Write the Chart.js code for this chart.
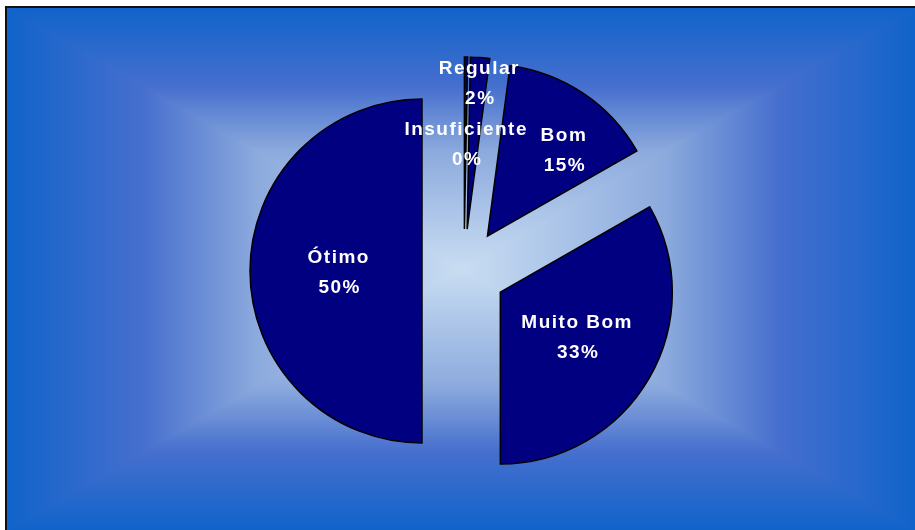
<!DOCTYPE html>
<html>
<head>
<meta charset="utf-8">
<title>Avaliação</title>
<script src="https://cdn.jsdelivr.net/npm/chart.js@4.4.1/dist/chart.umd.min.js"></script>
<style>
    html, body { margin: 0; padding: 0; background: #fff; }
    #wrap { width: 915px; height: 530px; position: relative; }
</style>
</head>
<body>
<div id="wrap"><canvas id="pieChart"></canvas></div>
<script>
// Dados (percentagens)
const categories = ['Insuficiente', 'Regular', 'Bom', 'Muito Bom', 'Ótimo'];
const values = [0.3, 1.8, 14.65, 33.25, 50];

// Estilo
const sliceColor = '#000080';
const explodeDist = 42;               // afastamento de cada fatia em relação ao centro (px)
const labelRadius = [0.5, 0.86, 0.67, 0.51, 0.49]; // posição do rótulo ao longo do raio
const labelShift = [0, 0, 7, 0, 0];   // ajuste angular dos rótulos (graus)

// 1. Fundo com gradiente retangular (do centro para as bordas)
const backgroundPlugin = {
    id: 'rectGradient',
    beforeDraw(chart) {
        const ctx = chart.ctx;
        const w = chart.width, h = chart.height;
        const x0 = 7, y0 = 8, x1 = w, y1 = h;
        const cx = (x0 + x1) / 2, cy = (y0 + y1) / 2;
        ctx.save();
        ctx.fillStyle = '#ffffff';
        ctx.fillRect(0, 0, w, h);

        const sides = [
            [[x0, y0], [x1, y0], [cx, y0], [cx, cy]],
            [[x1, y0], [x1, y1], [x1, cy], [cx, cy]],
            [[x1, y1], [x0, y1], [cx, y1], [cx, cy]],
            [[x0, y1], [x0, y0], [x0, cy], [cx, cy]]
        ];
        sides.forEach(s => {
            const g = ctx.createLinearGradient(s[2][0], s[2][1], s[3][0], s[3][1]);
            g.addColorStop(0, '#1063ca');
            g.addColorStop(0.3, '#466fce');
            g.addColorStop(0.55, '#8caadd');
            g.addColorStop(1, '#c9ddf2');
            ctx.beginPath();
            ctx.moveTo(s[0][0], s[0][1]);
            ctx.lineTo(s[1][0], s[1][1]);
            ctx.lineTo(cx, cy);
            ctx.closePath();
            ctx.fillStyle = g;
            ctx.strokeStyle = g;
            ctx.lineWidth = 1.5;
            ctx.fill();
            ctx.stroke();
        });

        // moldura preta (superior e esquerda)
        ctx.fillStyle = '#111';
        ctx.fillRect(5, 6, w - 5, 2);
        ctx.fillRect(5, 6, 2, h - 6);
        ctx.restore();
    }
};

function sliceShift(arc) {
    const half = (arc.startAngle + arc.endAngle) / 2;
    return { dx: Math.cos(half) * explodeDist, dy: Math.sin(half) * explodeDist, half: half };
}

// 2. Fatias destacadas: cada arco é desenhado deslocado ao longo da sua bissetriz
const explodePlugin = {
    id: 'explode',
    beforeDatasetDraw(chart, args) {
        const ctx = chart.ctx;
        args.meta.data.forEach(arc => {
            const s = sliceShift(arc);
            ctx.save();
            ctx.translate(s.dx, s.dy);
            arc.draw(ctx);
            ctx.restore();
        });
        return false;
    }
};

// 3. Rótulos (nome + percentagem) dentro das fatias
const labelPlugin = {
    id: 'sliceLabels',
    afterDatasetsDraw(chart) {
        const ctx = chart.ctx;
        const meta = chart.getDatasetMeta(0);
        ctx.save();
        ctx.fillStyle = '#ffffff';
        ctx.font = 'bold 19px "Liberation Sans", Arial, sans-serif';
        ctx.letterSpacing = '1.5px';
        ctx.textAlign = 'center';
        ctx.textBaseline = 'middle';
        meta.data.forEach((arc, i) => {
            const s = sliceShift(arc);
            const vx = arc.x + s.dx;
            const vy = arc.y + s.dy;
            const a = s.half + labelShift[i] * Math.PI / 180;
            const r = arc.outerRadius * labelRadius[i];
            const lx = vx + Math.cos(a) * r;
            const ly = vy + Math.sin(a) * r;
            ctx.fillText(categories[i], lx + 1, ly - 13);
            ctx.fillText(Math.round(values[i]) + '%', lx + 2, ly + 17);
        });
        ctx.restore();
    }
};

new Chart(document.getElementById('pieChart'), {
    type: 'pie',
    data: {
        labels: categories,
        datasets: [{
            data: values,
            backgroundColor: sliceColor,
            borderColor: '#000000',
            borderWidth: 1.5,
            borderJoinStyle: 'miter',
            hoverOffset: 0
        }]
    },
    options: {
        responsive: true,
        maintainAspectRatio: false,
        animation: false,
        radius: 172,
        rotation: 0,
        layout: { padding: { left: 13, right: 0, top: 12, bottom: 0 } },
        plugins: {
            legend: { display: false },
            tooltip: { enabled: false }
        },
        events: []
    },
    plugins: [backgroundPlugin, explodePlugin, labelPlugin]
});
</script>
</body>
</html>
